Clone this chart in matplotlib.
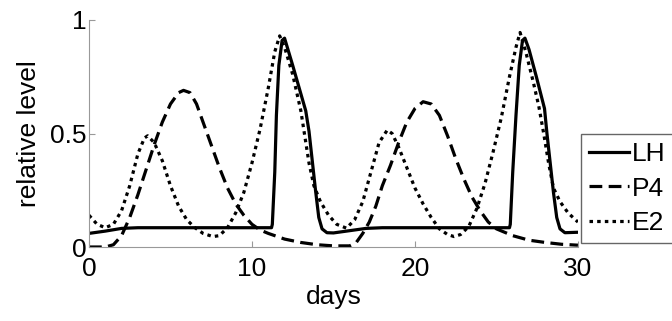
import matplotlib
matplotlib.use("Agg")
import matplotlib.pyplot as plt

plt.rcParams['font.family'] = ['Liberation Sans', 'DejaVu Sans']

# LH (solid)
lh_day = [0, 1, 2, 3, 11.2, 11.25, 11.4, 11.5, 11.65, 11.85, 12.0, 12.5, 12.9, 13.3,
          13.5, 13.7, 13.9, 14.1, 14.3, 14.6, 15, 16, 17, 18, 25.8, 25.85, 26.0,
          26.2, 26.4, 26.6, 26.75, 27.0, 27.45, 27.95, 28.1, 28.3, 28.5, 28.7,
          28.9, 29.2, 30]
lh_val = [0.06, 0.07, 0.082, 0.085, 0.085, 0.1, 0.33, 0.58, 0.8, 0.91, 0.92, 0.8,
          0.7, 0.6, 0.51, 0.38, 0.25, 0.13, 0.08, 0.063, 0.062, 0.072, 0.082,
          0.085, 0.085, 0.1, 0.33, 0.58, 0.8, 0.91, 0.92, 0.87, 0.75, 0.61, 0.5,
          0.37, 0.24, 0.13, 0.08, 0.063, 0.065]

# P4 (dashed)
p4_day = [0, 1, 1.5, 2, 2.5, 3, 3.5, 4, 4.5, 5, 5.5, 5.8, 6.2, 6.6, 7, 7.5, 8, 8.5,
          9, 9.5, 10, 10.5, 11, 12, 13, 14, 15, 16, 16.4, 16.8, 17.2, 17.6, 18,
          18.5, 19, 19.5, 20, 20.5, 21, 21.5, 22, 22.5, 23, 23.5, 24, 24.5, 25,
          26, 27, 28, 29, 30]
p4_val = [0.0, 0.0, 0.01, 0.05, 0.13, 0.23, 0.34, 0.45, 0.55, 0.63, 0.68, 0.69,
          0.68, 0.63, 0.55, 0.45, 0.35, 0.26, 0.19, 0.14, 0.1, 0.075, 0.06, 0.035,
          0.02, 0.01, 0.005, 0.005, 0.02, 0.06, 0.11, 0.18, 0.27, 0.36, 0.46, 0.55,
          0.61, 0.64, 0.63, 0.58, 0.49, 0.39, 0.3, 0.22, 0.16, 0.11, 0.08, 0.05,
          0.03, 0.02, 0.012, 0.008]

# E2 (dotted)
e2_day = [0, 0.5, 1, 1.5, 2, 2.5, 3, 3.4, 3.6, 4, 4.5, 5, 5.5, 6, 6.5, 7, 7.6, 8,
          8.5, 9, 9.5, 10, 10.5, 11, 11.4, 11.7, 12, 12.5, 13, 13.5, 13.8, 14.2,
          14.7, 15.2, 15.8, 16.3, 16.8, 17.3, 17.8, 18.3, 18.6, 19, 19.5, 20,
          20.5, 21, 21.5, 22, 22.4, 22.8, 23.3, 23.8, 24.3, 24.8, 25.3, 25.8,
          26.2, 26.45, 26.8, 27.25, 27.6, 27.9, 28.2, 28.5, 28.9, 29.4, 30]
e2_val = [0.14, 0.1, 0.085, 0.1, 0.16, 0.27, 0.41, 0.48, 0.49, 0.46, 0.38, 0.27,
          0.18, 0.12, 0.085, 0.06, 0.046, 0.05, 0.085, 0.15, 0.24, 0.37, 0.52,
          0.7, 0.86, 0.93, 0.88, 0.76, 0.6, 0.37, 0.27, 0.2, 0.14, 0.1, 0.083,
          0.12, 0.2, 0.33, 0.46, 0.515, 0.5, 0.44, 0.35, 0.26, 0.19, 0.13, 0.08,
          0.055, 0.046, 0.055, 0.09, 0.17, 0.28, 0.42, 0.57, 0.75, 0.88, 0.945,
          0.86, 0.73, 0.62, 0.5, 0.37, 0.26, 0.2, 0.15, 0.11]

fs = 19

fig = plt.figure(figsize=(6.72, 3.21), dpi=100)
ax = fig.add_axes([0.1324, 0.2305, 0.7276, 0.7072])

ax.plot(lh_day, lh_val, color='black', lw=2.3, label='LH')
ax.plot(p4_day, p4_val, color='black', lw=2.3, dashes=(4, 2), label='P4')
ax.plot(e2_day, e2_val, color='black', lw=2.3, dashes=(1.1, 1.3), label='E2')

ax.set_xlim(0, 30)
ax.set_ylim(0, 1)
ax.set_xticks([0, 10, 20, 30])
ax.set_yticks([0, 0.5, 1])
ax.set_yticklabels(['0', '0.5', '1'])
for s in ['top', 'right']:
    ax.spines[s].set_visible(False)
for s in ['left', 'bottom']:
    ax.spines[s].set_color('#999999')
ax.tick_params(direction='in', length=4, color='#999999', labelsize=fs)
ax.tick_params(axis='x', pad=7)
ax.tick_params(axis='y', pad=2)
ax.set_xlabel('days', fontsize=fs, labelpad=3)
ax.set_ylabel('relative level', fontsize=fs, labelpad=6)

# legend box runs past the right edge of the figure, as in the original
fig.legend(loc='lower left', bbox_to_anchor=(0.865, 0.243, 0.16, 0.3),
           mode='expand', fontsize=fs,
           fancybox=False, edgecolor='#666666', framealpha=1, handlelength=1.5,
           handletextpad=0.12, borderpad=0.3, labelspacing=0.4, borderaxespad=0)

fig.savefig('out.png', dpi=100)
